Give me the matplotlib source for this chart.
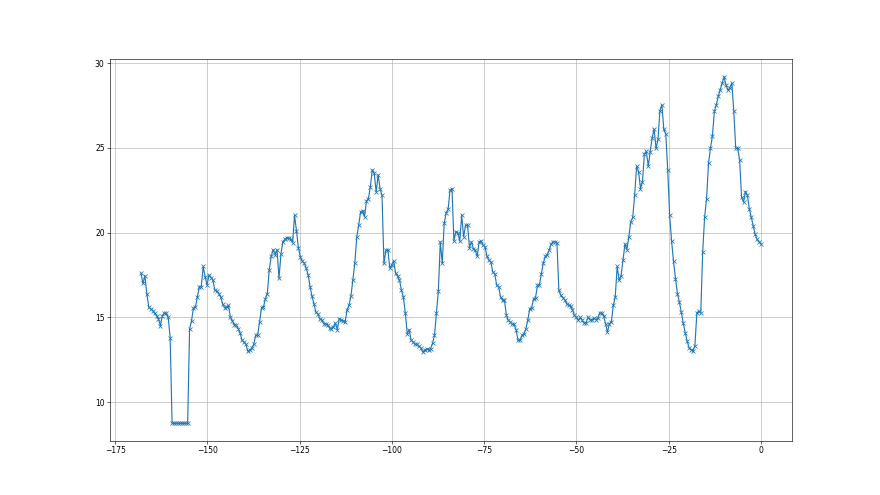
import numpy as np
import matplotlib
matplotlib.use("Agg")
import matplotlib.pyplot as plt
from matplotlib.ticker import MultipleLocator

# temperatura, ultimas 168 horas (aprox. cada media hora)
seg1 = [17.6, 17.0, 17.45, 16.4, 15.6, 15.5, 15.4, 15.25, 15.1, 14.9, 14.5, 15.1, 15.25, 15.25, 15.0, 13.8,
        8.75, 8.75, 8.75, 8.75, 8.75, 8.75, 8.75, 8.75, 8.75,
        14.3, 14.8, 15.55, 15.6, 16.2, 16.8, 16.8, 18.0, 17.4, 16.9, 17.5, 17.35, 17.2, 16.6, 16.55, 16.4, 16.2, 15.8]
seg2 = [15.57, 15.6, 15.7, 15.0, 14.8, 14.57, 14.55, 14.33, 14.07, 13.64, 13.54, 13.4, 13.0, 13.05, 13.2,
        13.4, 13.93, 13.95, 14.72, 15.57, 15.6, 16.1, 16.4, 17.82, 18.6, 19.0, 18.7, 19.0, 17.3, 18.73,
        19.46, 19.6, 19.7, 19.68, 19.6, 19.4, 21.03, 20.1, 19.1, 18.57, 18.3, 18.2, 17.9, 17.5, 16.8]
seg3 = [16.24, 15.8, 15.3, 15.2, 14.9, 14.85, 14.63, 14.6, 14.55, 14.37, 14.3, 14.43, 14.66, 14.27, 14.92,
        14.85, 14.8, 14.7, 15.41, 15.7, 16.24, 17.2, 18.18, 19.72, 20.44, 21.23, 21.3, 20.93, 21.86, 22.0,
        22.7, 23.7, 23.5, 22.4, 23.4, 22.6, 22.2, 18.18, 18.96, 19.0, 17.9, 18.1, 18.33, 17.6]
seg4 = [17.43, 17.2, 16.6, 16.2, 15.25, 14.03, 14.27, 13.64, 13.55, 13.4, 13.43, 13.28, 13.2, 12.95, 13.05,
        13.15, 13.1, 13.15, 13.48, 13.93, 15.25, 16.56, 19.46, 18.18, 20.54, 21.17, 21.37, 22.5, 22.6, 19.5,
        20.05, 20.0, 19.5, 21.03, 19.75, 20.44, 20.44, 19.12, 19.45, 19.06, 18.96, 18.6, 19.46, 19.5, 19.26]
seg5 = [19.16, 18.6, 18.37, 18.27, 17.68, 17.58, 16.9, 16.8, 16.2, 16.0, 16.0, 15.12, 14.82, 14.72, 14.59,
        14.59, 14.27, 13.64, 13.64, 13.93, 14.03, 14.31, 14.82, 15.51, 15.57, 16.1, 16.16, 16.9, 16.93, 17.58,
        18.2, 18.6, 18.7, 18.96, 19.32, 19.45, 19.45, 19.4, 16.6, 16.3, 16.16, 16.05, 15.8]
seg6 = [15.7, 15.67, 15.45, 15.12, 15.0, 14.82, 15.0, 14.82, 14.66, 14.66, 15.02, 14.86, 14.82, 14.96, 14.86,
        14.96, 15.25, 15.25, 15.1, 14.63, 14.13, 14.63, 14.72, 15.7, 16.2, 18.0, 17.2, 17.45, 18.41, 19.32,
        19.0, 19.75, 20.64, 20.9, 22.22, 23.93, 23.6, 22.6, 23.0, 24.64, 24.8, 23.93, 24.75, 25.6, 26.1]
seg7 = [24.98, 25.5, 27.2, 27.54, 26.1, 25.83, 23.7, 21.03, 19.5, 18.3, 17.29, 16.4, 15.9, 15.3, 14.66,
        14.1, 13.6, 13.2, 13.1, 13.0, 13.33, 15.25, 15.37, 15.25, 18.86, 20.93, 22.0, 24.1, 24.98, 25.7,
        27.15, 27.54, 28.04, 28.43, 28.83, 29.2, 28.7, 28.4, 28.55, 28.83, 27.15, 24.98, 24.98, 24.29, 22.08,
        21.8, 22.42, 22.2, 21.4, 20.9, 20.4, 19.9, 19.6, 19.46, 19.32]

temp = seg1 + seg2 + seg3 + seg4 + seg5 + seg6 + seg7
horas = np.linspace(-168, 0, len(temp))

fig = plt.figure(figsize=(16, 9), dpi=55)
plt.plot(horas, temp, marker='x')
plt.gca().yaxis.set_major_locator(MultipleLocator(5))
plt.grid(True)
plt.savefig("out.png", dpi=55)
plt.close()
